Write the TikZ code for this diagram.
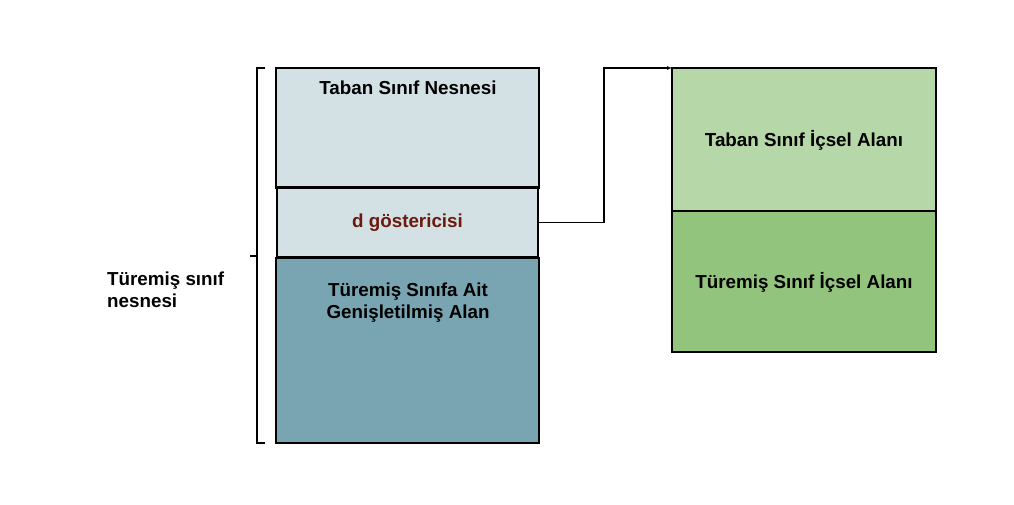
\documentclass[tikz,border=0pt]{standalone}
\usepackage{fontspec}
\setmainfont{Liberation Sans}
\usetikzlibrary{arrows.meta}
\usetikzlibrary{calc}
\usetikzlibrary{positioning}

\definecolor{basegray}{HTML}{D3E1E4}
\definecolor{extteal}{HTML}{78A5B1}
\definecolor{lightgreen}{HTML}{B6D7A8}
\definecolor{darkgreen}{HTML}{93C47D}
\definecolor{ptrred}{HTML}{6B1A0E}

\tikzset{
    lbl/.style={font=\fontsize{18.8}{21.5}\selectfont\bfseries, inner sep=0pt},
    cell/.style={draw=black, line width=1.5pt},
}

\begin{document}
\begin{tikzpicture}[x=1pt, y=-1pt]
    \useasboundingbox (0,0) rectangle (1014,505);

    \coordinate (obj) at (276,68);
    \coordinate (inner) at (672,68);

    % derived object
    \draw[cell, fill=basegray] (obj) rectangle +(263,120);
    \draw[cell, fill=extteal] (obj)++(0,190) rectangle +(263,185);
    \node[lbl, draw=black, line width=2.2pt, fill=basegray, minimum width=261pt,
          minimum height=70pt, text=ptrred] (ptr) at (407.5,222.5) {d göstericisi};
    \node[lbl] (base) at (408,88) {Taban Sınıf Nesnesi};
    \node[lbl, align=center] (ext) at (408,302.5) {Türemiş Sınıfa Ait\\Genişletilmiş Alan};

    % brace
    \draw[line width=1.5pt] (265,68) -- (257,68) -- (257,443) -- (265,443);
    \coordinate (mid) at (257,256);
    \draw[line width=1.5pt] (mid) -- ++(-7,0);
    \node[lbl, align=left, anchor=west] (whole) at (107,290) {Türemiş sınıf\\nesnesi};

    % inner data
    \draw[cell, fill=lightgreen] (inner) rectangle +(264,143);
    \draw[cell, fill=darkgreen] (inner)++(0,143) rectangle +(264,141);
    \node[lbl] (basein) at (804,140) {Taban Sınıf İçsel Alanı};
    \node[lbl] (derivin) at (804,282) {Türemiş Sınıf İçsel Alanı};

    \draw[line width=1.5pt, -{Latex[length=5pt,width=4pt]}] (ptr.east) -- ++(65,0) |- (inner);
\end{tikzpicture}
\end{document}
